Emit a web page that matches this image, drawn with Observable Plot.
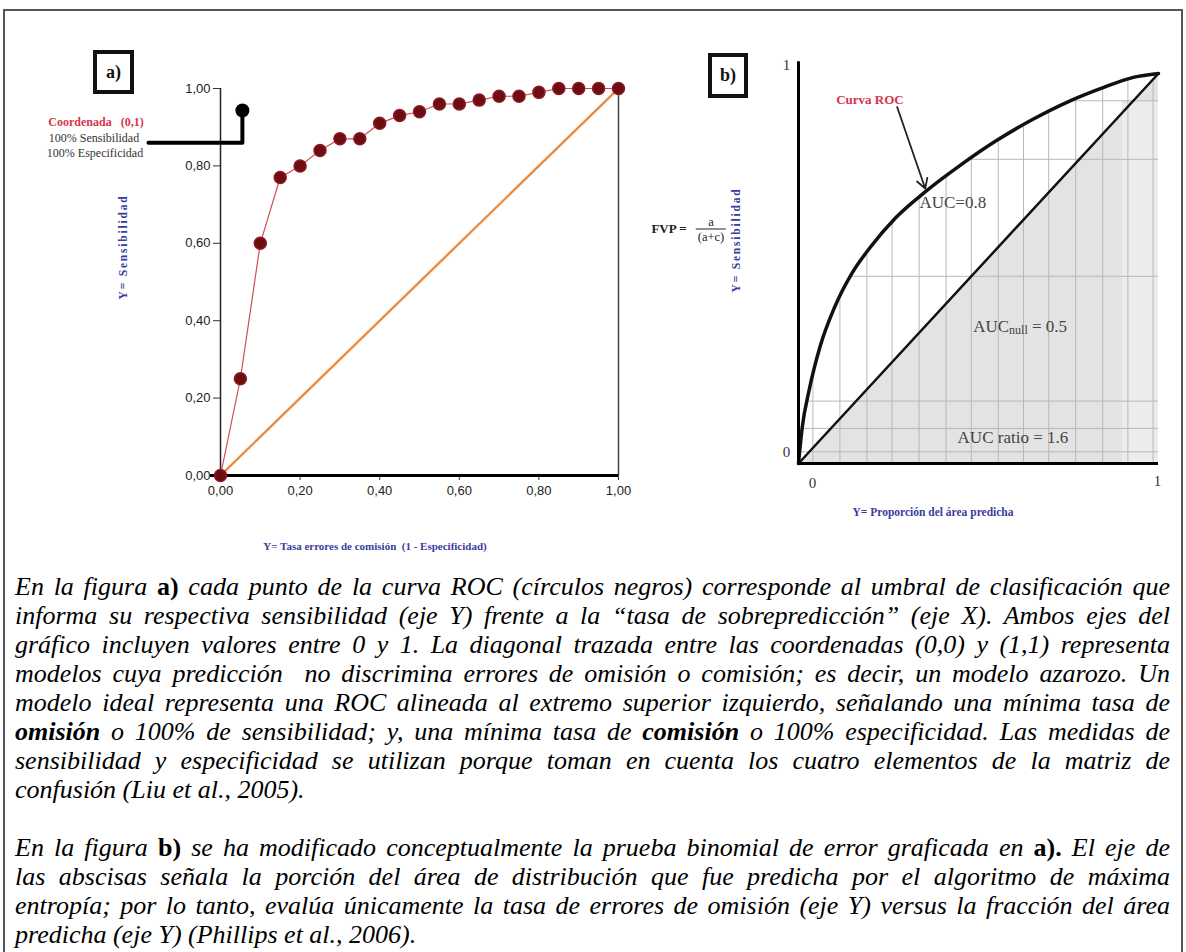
<!DOCTYPE html>
<html><head><meta charset="utf-8">
<script src="https://cdn.jsdelivr.net/npm/d3@7"></script>
<script src="https://cdn.jsdelivr.net/npm/@observablehq/plot@0.6"></script>
<style>
body{margin:0;background:#fff;}
#root{position:relative;width:1186px;height:952px;overflow:hidden;background:#fff;}
#frame{position:absolute;left:3px;top:9px;width:1180px;height:980px;border:2px solid #555;box-sizing:border-box;}
.abs{position:absolute;white-space:nowrap;}
.c{transform:translate(-50%,-50%);}
.serif{font-family:"Liberation Serif","Times New Roman",serif;}
.box{position:absolute;border:4px solid #111;box-sizing:border-box;display:flex;align-items:center;justify-content:center;font-family:"Liberation Serif",serif;font-weight:bold;font-size:18px;color:#111;}
.blue{color:#3b3b9e;font-weight:bold;font-family:"Liberation Serif",serif;}
.cap{position:absolute;left:15px;width:1155px;font-family:"Liberation Serif","Times New Roman",serif;font-style:italic;font-size:26px;height:29px;line-height:29px;color:#000;white-space:nowrap;}
.j{text-align:justify;text-align-last:justify;}
.bu{font-weight:bold;font-style:normal;}
.bi{font-weight:bold;}
</style></head>
<body><div id="root"><div id="frame"></div></div>
<script>
// ---------- data ----------
// panel a: ROC points
const rocX = [0,0.05,0.10,0.15,0.20,0.25,0.30,0.35,0.40,0.45,0.50,0.55,0.60,0.65,0.70,0.75,0.80,0.85,0.90,0.95,1.00];
const rocY = [0,0.25,0.60,0.77,0.80,0.84,0.87,0.87,0.91,0.93,0.94,0.96,0.96,0.97,0.98,0.98,0.99,1.00,1.00,1.00,1.00];
const diagX = [0,1];
const diagY = [0,1];
const ticksA = [0,0.2,0.4,0.6,0.8,1];
// annotation "Coordenada (0,1)"
const connX = [-0.181,0.055,0.055];
const connY = [0.86,0.86,0.925];
const idealX = [0.055];
const idealY = [0.943];
// panel b: conceptual ROC curve
const curveBX = [0,0.01,0.03,0.06,0.10,0.15,0.20,0.27,0.35,0.45,0.55,0.65,0.75,0.85,0.93,1];
const curveBY = [0,0.09,0.19,0.30,0.40,0.49,0.555,0.63,0.695,0.765,0.828,0.882,0.928,0.965,0.99,1];
const gridBX = [0.04,0.115,0.19,0.26,0.335,0.41,0.48,0.555,0.625,0.695,0.77,0.845,0.915,0.985];
const gridBY = [0.03,0.09,0.16,0.48,0.78,0.93];
const arrowB = [{x1:0.274,y1:0.914,x2:0.352,y2:0.705}];
const labelsB = [
  {x:0.2,y:0.93,html:"Curva ROC",cls:"roc"},
  {x:0.43,y:0.667,html:"AUC=0.8",cls:"auc"},
  {x:0.617,y:0.349,html:"AUC<span style='font-size:12px;vertical-align:-2px'>null</span> = 0.5",cls:"auc"},
  {x:0.597,y:0.064,html:"AUC ratio = 1.6",cls:"auc"}
];

const roc = rocX.map((x,i)=>({x,y:rocY[i]}));
const diag = diagX.map((x,i)=>({x,y:diagY[i]}));
const conn = connX.map((x,i)=>({x,y:connY[i]}));
const ideal = idealX.map((x,i)=>({x,y:idealY[i]}));
const curveB = curveBX.map((x,i)=>({x,y:curveBY[i]}));
const fmt = d => d3.format(".2f")(d).replace(".",",");

const root = document.getElementById("root");
function place(el,left,top,w){const d=document.createElement("div");d.style.position="absolute";d.style.left=left+"px";d.style.top=top+"px";d.style.width=w+"px";d.appendChild(el);root.appendChild(d);return d;}
function txt(html,x,y,cls,style){const d=document.createElement("div");d.className="abs c "+(cls||"");d.innerHTML=html;d.style.left=x+"px";d.style.top=y+"px";if(style)d.setAttribute("style",d.getAttribute("style")+";"+style);root.appendChild(d);return d;}

// ---------- panel a ----------
const plotA = Plot.plot({
  width:640,height:570,marginLeft:220,marginRight:22,marginTop:88,marginBottom:95,
  x:{domain:[0,1]},y:{domain:[0,1]},
  style:{fontFamily:"Liberation Sans, Arial, sans-serif",fontSize:"13px",background:"transparent",overflow:"visible"},
  marks:[
    Plot.axisX({ticks:ticksA,tickFormat:fmt,tickSize:5,tickPadding:5,fill:"#222",stroke:"#333",label:null}),
    Plot.axisY({ticks:ticksA,tickFormat:fmt,tickSize:7,tickPadding:3,fill:"#222",stroke:"#333",label:null}),
    Plot.ruleX([0],{y1:0,y2:1,stroke:"#222",strokeWidth:1.5}),
    Plot.ruleX([1],{y1:0,y2:1,stroke:"#444",strokeWidth:1.5}),
    Plot.ruleY([0],{x1:-0.025,x2:1,stroke:"#000",strokeWidth:3}),
    Plot.line(diag,{x:"x",y:"y",stroke:"#f5c08e",strokeWidth:3}),
    Plot.line(diag,{x:"x",y:"y",stroke:"#e0772e",strokeWidth:1.2}),
    Plot.line(roc,{x:"x",y:"y",stroke:"#d24a5a",strokeWidth:1.2}),
    Plot.dot(roc,{x:"x",y:"y",r:6,fill:"#6e0c14",stroke:"#8a1a22"}),
    Plot.line(conn,{x:"x",y:"y",stroke:"#000",strokeWidth:4}),
    Plot.dot(ideal,{x:"x",y:"y",r:7,fill:"#000"})
  ]
});
place(plotA,0,0,640);

// ---------- panel b ----------
const plotB = Plot.plot({
  width:566,height:570,marginLeft:178,marginRight:28,marginTop:73,marginBottom:107,
  x:{domain:[0,1],axis:null},y:{domain:[0,1],axis:null},
  style:{fontFamily:"Liberation Serif, serif",fontSize:"15px",background:"transparent",overflow:"visible"},
  marks:[
    Plot.areaY(diag,{x:"x",y:"y",fill:"#e3e3e3"}),
    Plot.rect([{x1:0.9,x2:1,y1:0,y2:0.93}],{x1:"x1",x2:"x2",y1:"y1",y2:"y2",fill:"#ececec"}),
    Plot.ruleX(gridBX,{y1:0,y2:0.98,stroke:"#b8b8b8",strokeWidth:1}),
    Plot.ruleY(gridBY,{x1:0,x2:1,stroke:"#b8b8b8",strokeWidth:1}),
    Plot.areaY(curveB,{x:"x",y1:"y",y2:1.0,fill:"#fff",curve:"monotone-x"}),
    Plot.line(diag,{x:"x",y:"y",stroke:"#111",strokeWidth:2.5}),
    Plot.line(curveB,{x:"x",y:"y",stroke:"#111",strokeWidth:3.5,curve:"monotone-x"}),
    Plot.arrow(arrowB,{x1:"x1",y1:"y1",x2:"x2",y2:"y2",stroke:"#222",strokeWidth:1.8,headLength:9}),
    Plot.ruleX([0],{y1:0,y2:1.03,stroke:"#000",strokeWidth:3}),
    Plot.ruleY([0],{x1:0,x2:1.0,stroke:"#000",strokeWidth:3}),
    Plot.text([1],{x:0,y:d=>d,text:d=>String(d),dx:-12,dy:-8,fill:"#333"}),
    Plot.text([0],{x:0,y:d=>d,text:d=>String(d),dx:-12,dy:-11,fill:"#333"}),
    Plot.text([0],{x:d=>d,y:0,text:d=>String(d),dx:14,dy:20,fill:"#333"}),
    Plot.text([1],{x:d=>d,y:0,text:d=>String(d),dx:-1,dy:18,fill:"#333"})
  ]
});
place(plotB,620,0,566);
const sxB = plotB.scale("x"), syB = plotB.scale("y");
for(const l of labelsB){
  const style = l.cls==="roc" ? "font-size:13px;color:#d8344a;font-weight:600" : "font-size:17px;color:#444";
  txt(l.html,620+sxB.apply(l.x),syB.apply(l.y),"serif",style);
}

// ---------- overlay texts ----------
const bxA=document.createElement("div");bxA.className="box";bxA.textContent="a)";Object.assign(bxA.style,{left:"93px",top:"50px",width:"41px",height:"44px"});root.appendChild(bxA);
const bxB=document.createElement("div");bxB.className="box";bxB.textContent="b)";Object.assign(bxB.style,{left:"708px",top:"53px",width:"40px",height:"45px"});root.appendChild(bxB);

txt("Coordenada&nbsp;&nbsp; (0,1)",96,122,"serif","font-size:12px;color:#d8344a;font-weight:bold");
txt("100% Sensibilidad",94,138,"serif","font-size:12px;color:#333");
txt("100% Especificidad",95,153,"serif","font-size:12px;color:#333");

txt("Y= Sensibilidad",123,247,"blue","font-size:11.5px;letter-spacing:1.8px;transform:translate(-50%,-50%) rotate(-90deg)");
txt("Y= Tasa errores de comisión&nbsp; (1 - Especificidad)",375,546,"blue","font-size:11px");
txt("Y= Sensibilidad",736,240,"blue","font-size:11.5px;letter-spacing:1.8px;transform:translate(-50%,-50%) rotate(-90deg)");
txt("Y= Proporción del área predicha",933,512,"blue","font-size:11.5px");

// FVP formula
txt("FVP =",669,229,"serif","font-size:13px;font-weight:bold;color:#222");
txt("<div style='display:flex;flex-direction:column;align-items:center;line-height:14px'><span>a</span><span style='border-top:1px solid #222;padding:0 2px'>(a+c)</span></div>",711,229,"serif","font-size:12.5px;color:#222");

// ---------- caption ----------
const p1 = [
 "En la figura <span class='bu'>a)</span> cada punto de la curva ROC (círculos negros) corresponde al umbral de clasificación que",
 "informa su respectiva sensibilidad (eje Y) frente a la “tasa de sobrepredicción” (eje X). Ambos ejes del",
 "gráfico incluyen valores entre 0 y 1. La diagonal trazada entre las coordenadas (0,0) y (1,1) representa",
 "modelos cuya predicción&nbsp; no discrimina errores de omisión o comisión; es decir, un modelo azarozo. Un",
 "modelo ideal representa una ROC alineada al extremo superior izquierdo, señalando una mínima tasa de",
 "<span class='bi'>omisión</span> o 100% de sensibilidad; y, una mínima tasa de <span class='bi'>comisión</span> o 100% especificidad. Las medidas de",
 "sensibilidad y especificidad se utilizan porque toman en cuenta los cuatro elementos de la matriz de",
 "confusión (Liu et al., 2005)."
];
const p2 = [
 "En la figura <span class='bu'>b)</span> se ha modificado conceptualmente la prueba binomial de error graficada en <span class='bu'>a).</span> El eje de",
 "las abscisas señala la porción del área de distribución que fue predicha por el algoritmo de máxima",
 "entropía; por lo tanto, evalúa únicamente la tasa de errores de omisión (eje Y) versus la fracción del área",
 "predicha (eje Y) (Phillips et al., 2006)."
];
function para(lines,firstCenter){
  lines.forEach((h,i)=>{
    const d=document.createElement("div");
    d.className="cap"+(i<lines.length-1?" j":"");
    d.innerHTML=h;
    d.style.top=(firstCenter+i*29-14.5)+"px";
    root.appendChild(d);
  });
}
para(p1,586);
para(p2,847);
</script>
</body></html>
